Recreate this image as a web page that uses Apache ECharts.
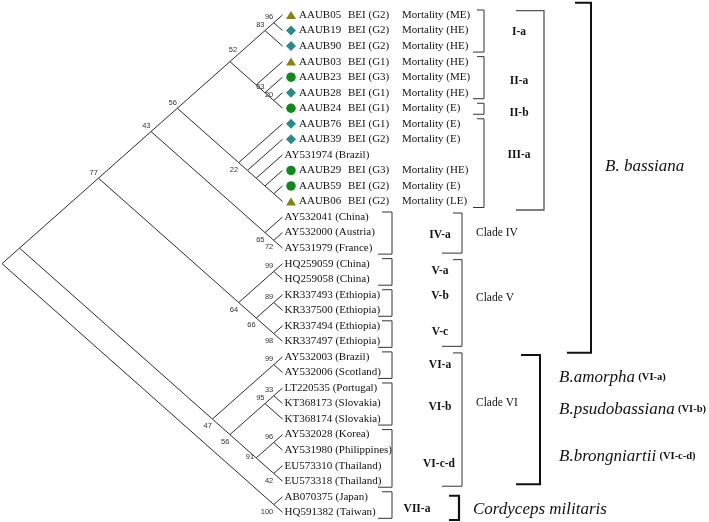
<!DOCTYPE html>
<html><head><meta charset="utf-8">
<script src="https://cdn.jsdelivr.net/npm/echarts@6/dist/echarts.min.js"></script>
<style>html,body{margin:0;padding:0;background:#fff}#c{width:709px;height:522px}</style>
</head><body><div id="c"></div>
<script>
// ---------------- DATA ----------------
const leafIds = ['AAUB05','AAUB19','AAUB90','AAUB03','AAUB23','AAUB28','AAUB24','AAUB76','AAUB39',
  'AY531974 (Brazil)','AAUB29','AAUB59','AAUB06',
  'AY532041 (China)','AY532000 (Austria)','AY531979 (France)',
  'HQ259059 (China)','HQ259058 (China)',
  'KR337493 (Ethiopia)','KR337500 (Ethiopia)','KR337494 (Ethiopia)','KR337497 (Ethiopia)',
  'AY532003 (Brazil)','AY532006 (Scotland)',
  'LT220535 (Portugal)','KT368173 (Slovakia)','KT368174 (Slovakia)',
  'AY532028 (Korea)','AY531980 (Philippines)','EU573310 (Thailand)','EU573318 (Thailand)',
  'AB070375 (Japan)','HQ591382 (Taiwan)'];
const leafBEI = ['BEI (G2)','BEI (G2)','BEI (G2)','BEI (G1)','BEI (G3)','BEI (G1)','BEI (G1)','BEI (G1)','BEI (G2)',
  '','BEI (G3)','BEI (G2)','BEI (G2)'];
const leafMortality = ['Mortality (ME)','Mortality (HE)','Mortality (HE)','Mortality (HE)','Mortality (ME)','Mortality (HE)',
  'Mortality (E)','Mortality (E)','Mortality (E)','','Mortality (HE)','Mortality (E)','Mortality (LE)'];
const leafMarker = ['triangle','diamond','diamond','triangle','circle','diamond','circle','diamond','diamond',
  '','circle','circle','triangle'];
// tree topology (leaf indices) with bootstrap support values
const treeNewick = "((((((((0,1)96,2)83,(3,(4,(5,6)20)63))52,(7,(8,(9,(10,(11,12)))))22)56,(13,(14,15)72)65)43,((16,17)99,((18,19)89,(20,21)98)66)64)77,((22,23)99,(((24,25)33,26)95,((27,28)96,(29,30)42)91)56)47),(31,32)100)";
const subcladeNames = ['I-a','II-a','II-b','III-a','IV-a','V-a','V-b','V-c','VI-a','VI-b','VI-c-d','VII-a'];
const subcladeFirst = [0,3,6,7,13,16,18,20,22,24,27,31];
const subcladeLast  = [2,5,6,12,15,17,19,21,23,26,30,32];
const cladeNames = ['Clade IV','Clade V','Clade VI'];
const cladeFirst = [13,16,22];
const cladeLast  = [15,21,30];
const speciesNames = ['B.amorpha','B.psudobassiana','B.brongniartii'];
const speciesTags = ['(VI-a)','(VI-b)','(VI-c-d)'];

// ---------------- STYLE / LAYOUT ----------------
const SERIF = '"Liberation Serif","Times New Roman",serif';
const SANS = '"Liberation Sans",Arial,sans-serif';
const markerColor = {triangle:'#878118', diamond:'#2a898c', circle:'#11881c'};
const markerSize = {triangle:[10,8], diamond:[10,10], circle:9.5};
const subLabelX = [519,519,519,519,440,440,440,440,440,440,439,417];
const subLabelY = [1.1,4.25,6.3,9.0,14.15,16.45,18.1,20.4,22.5,25.2,28.9,31.8];
const cladeLabelY = [14.03,18.21,24.97];
const speciesLabelY = [23.3,25.37,28.42];

function parseNewick(s){
  let i=0;
  function node(){
    if(s[i]==='('){
      i++; const ch=[node()];
      while(s[i]===','){ i++; ch.push(node()); }
      i++;
      let lab=''; while(i<s.length && /[0-9]/.test(s[i])) lab+=s[i++];
      return {children:ch, support: lab===''?null:+lab};
    }
    let lab=''; while(/[0-9]/.test(s[i])) lab+=s[i++];
    return {leaf:+lab};
  }
  return node();
}
const root = parseNewick(treeNewick);
const edges = [], supports = [];
const labelOverride = {'0-6':'aboveRight','4-6':'above','5-6':'above','27-30':'left'};
function layout(n, pos){
  if(n.children){
    n.children.forEach((c,k)=>layout(c, k===0?'above':'below'));
    n.lo = Math.min(...n.children.map(c=>c.lo));
    n.hi = Math.max(...n.children.map(c=>c.hi));
  } else { n.lo = n.hi = n.leaf; }
  n.y = (n.lo+n.hi)/2; n.x = -(n.hi-n.lo)/2;
  if(n.children){
    n.children.forEach(c=>edges.push([n.x,n.y,c.x,c.y]));
    if(n.support!==null){
      const key = n.lo+'-'+n.hi;
      const p = labelOverride[key] || pos;
      supports.push([n.x,n.y,n.support,['above','below','aboveRight','left'].indexOf(p)]);
    }
  }
}
layout(root,'above');

const chart = echarts.init(document.getElementById('c'));
function T(x,y,text,o){
  return {type:'text', x:x, y:y, style:Object.assign({text:text, fill:'#111', fontFamily:SERIF, fontSize:11,
    align:'left', verticalAlign:'middle'}, o||{})};
}
function bracket(api, first, last, xv, xTop, xBot, padT, padB, lw, col){
  const y1 = api.coord([0,first])[1]+padT, y2 = api.coord([0,last])[1]+padB;
  return {type:'polyline', shape:{points:[[xTop,y1],[xv,y1],[xv,y2],[xBot,y2]]},
    style:{stroke:col||'#333', lineWidth:lw||1, fill:null}};
}
const markerData = [];
leafMarker.forEach((m,i)=>{ if(m) markerData.push({value:[0,i], m:m}); });

chart.setOption({
  animation:false,
  grid:{left:2, top:15, width:280.5, height:497.3},
  xAxis:{type:'value', min:-16, max:0, show:false},
  yAxis:{type:'value', min:0, max:32, inverse:true, show:false},
  series:[
    {type:'custom', clip:false, data:edges, silent:true,
     renderItem:(p,api)=>{
       const a=api.coord([api.value(0),api.value(1)]), b=api.coord([api.value(2),api.value(3)]);
       return {type:'line', shape:{x1:a[0],y1:a[1],x2:b[0],y2:b[1]}, style:{stroke:'#2a2a2a', lineWidth:1}};
     }},
    {type:'scatter', data:markerData, silent:true,
     symbol:(v,p)=>markerData[p.dataIndex].m,
     symbolSize:(v,p)=>markerSize[markerData[p.dataIndex].m],
     symbolOffset:[8.5,0],
     itemStyle:{color:(p)=>markerColor[markerData[p.dataIndex].m], opacity:1}},
    {type:'custom', clip:false, silent:true, data:leafIds.map((_,i)=>[0,i]),
     renderItem:(p,api)=>{
       const i=p.dataIndex, pt=api.coord([0,i]);
       const hasM = !!leafMarker[i];
       const ch=[T(hasM?299:284.5, pt[1], leafIds[i])];
       if(leafBEI[i]) ch.push(T(348, pt[1], leafBEI[i]));
       if(leafMortality[i]) ch.push(T(402, pt[1], leafMortality[i]));
       return {type:'group', children:ch};
     }},
    {type:'custom', clip:false, silent:true, data:supports,
     renderItem:(p,api)=>{
       const pt=api.coord([api.value(0),api.value(1)]), mode=api.value(3);
       let x=pt[0]-0.5, y=pt[1]-5.5, al='right';
       if(mode===1) y=pt[1]+7;
       if(mode===2){ x=pt[0]+3; y=pt[1]-12; al='center'; }
       if(mode===3){ x=pt[0]-2; y=pt[1]-1; }
       return T(x,y,String(api.value(2)),{fontFamily:SANS, fontSize:7.5, fill:'#333', align:al});
     }},
    {type:'custom', clip:false, silent:true, data:subcladeNames.map((_,i)=>[0,i]),
     renderItem:(p,api)=>{
       const i=p.dataIndex, ch=[];
       const grpI = i<4;
       ch.push(bracket(api, subcladeFirst[i], subcladeLast[i], grpI?484:392, grpI?477:382, grpI?473:378, -5, 6, 1, '#333'));
       ch.push(T(subLabelX[i], api.coord([0,subLabelY[i]])[1], subcladeNames[i], {fontWeight:'bold', fontSize:11.5, align:'center'}));
       return {type:'group', children:ch};
     }},
    {type:'custom', clip:false, silent:true, data:cladeNames.map((_,i)=>[0,i]),
     renderItem:(p,api)=>{
       const i=p.dataIndex;
       return {type:'group', children:[
         bracket(api, cladeFirst[i], cladeLast[i], 462, 453, 442, -4, 5, 1, '#333'),
         T(476, api.coord([0,cladeLabelY[i]])[1], cladeNames[i], {fontSize:11.5})
       ]};
     }},
    {type:'custom', clip:false, silent:true, data:[[0,0]],
     renderItem:(p,api)=>{
       const ch=[];
       ch.push(bracket(api, 0, 12, 544, 516, 516, -4.3, 8.5, 1.3, '#555'));
       ch.push(bracket(api, 0, 21, 591, 575, 567, -12.3, 11.4, 2, '#111'));
       ch.push(bracket(api, 22, 30, 540, 521, 516, -2, 3, 2, '#111'));
       ch.push(bracket(api, 31, 32, 459, 449, 449, -1, 7.7, 2.2, '#111'));
       ch.push(T(605, api.coord([0,9.76])[1], 'B. bassiana', {fontSize:17, fontStyle:'italic'}));
       speciesNames.forEach((s,k)=>{
         ch.push({type:'text', x:559, y:api.coord([0,speciesLabelY[k]])[1], style:{
           text:'{i|'+s+'} {b|'+speciesTags[k]+'}', align:'left', verticalAlign:'middle',
           rich:{i:{fontFamily:SERIF, fontSize:17, fontStyle:'italic', fill:'#111'},
                 b:{fontFamily:SERIF, fontSize:10.5, fontWeight:'bold', fill:'#111'}}}});
       });
       ch.push(T(473, api.coord([0,31.8])[1], 'Cordyceps militaris', {fontSize:17, fontStyle:'italic'}));
       return {type:'group', children:ch};
     }}
  ]
});
</script></body></html>
